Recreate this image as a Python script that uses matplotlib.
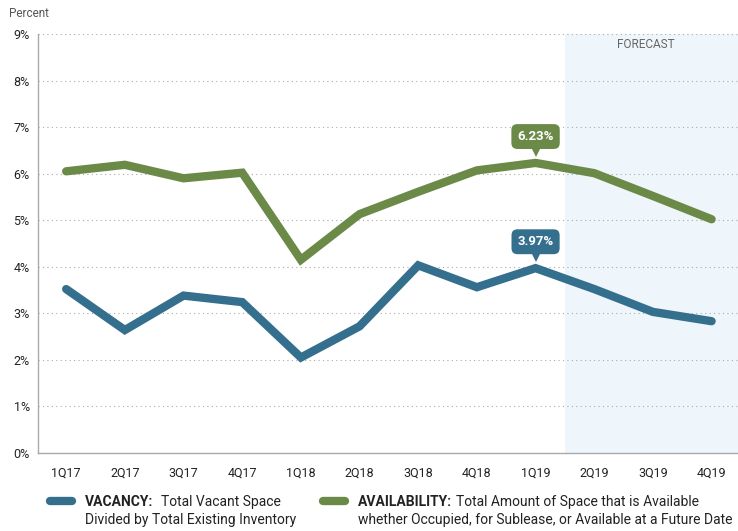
import matplotlib.pyplot as plt
from matplotlib import transforms
from matplotlib.lines import Line2D

quarters = ['1Q17', '2Q17', '3Q17', '4Q17', '1Q18', '2Q18',
            '3Q18', '4Q18', '1Q19', '2Q19', '3Q19', '4Q19']
vacancy = [3.52, 2.64, 3.38, 3.24, 2.05, 2.72, 4.03, 3.56, 3.97, 3.52, 3.03, 2.83]
availability = [6.05, 6.19, 5.90, 6.02, 4.15, 5.13, 5.61, 6.07, 6.23, 6.01, 5.52, 5.02]
yticks = [0, 1, 2, 3, 4, 5, 6, 7, 8, 9]
forecast_start = 8.5
callout_idx = 8

blue = '#356f8e'
green = '#6b8a47'

plt.rcParams['font.family'] = ['Liberation Sans Narrow', 'Roboto', 'DejaVu Sans']

fig = plt.figure(figsize=(7.38, 5.31), dpi=100)
ax = fig.add_axes([0.0515, 0.147, 0.9485, 0.789])

x = list(range(len(quarters)))
ax.axvspan(forecast_start, 11.45, color='#eef6fc', zorder=0, lw=0)
ax.text((forecast_start + 11.45) / 2 - 0.1, 8.78, 'FORECAST', ha='center', va='center',
        fontsize=8.5, color='#666666')

ax.plot(x, availability, color=green, lw=6, solid_capstyle='round', solid_joinstyle='miter', zorder=3)
ax.plot(x, vacancy, color=blue, lw=6, solid_capstyle='round', solid_joinstyle='miter', zorder=3)

# callouts
for vals, col in [(availability, green), (vacancy, blue)]:
    v = vals[callout_idx]
    ax.annotate(f'{v:.2f}%', (callout_idx, v), xytext=(0, 19), textcoords='offset points',
                ha='center', va='center', fontsize=9.5, fontweight='bold', color='white',
                bbox=dict(boxstyle='round,pad=0.45,rounding_size=0.45', fc=col, ec='none'),
                zorder=5)
    tr = transforms.offset_copy(ax.transData, fig=fig, x=0, y=8, units='points')
    ax.plot([callout_idx], [v], marker='v', ms=7, color=col, transform=tr, zorder=5,
            markeredgewidth=0)

ax.set_xlim(-0.48, 11.45)
ax.set_ylim(0, 9)
ax.set_xticks(x)
ax.set_xticklabels(quarters, fontsize=9, color='#222222')
ax.set_yticks(yticks)
ax.set_yticklabels([f'{t}%' for t in yticks], fontsize=9, color='#222222')
ax.tick_params(length=0, pad=10)
ax.tick_params(axis='y', pad=6)
ax.grid(axis='y', color='#aaaaaa', ls=(0, (1, 3)), lw=0.8)
ax.set_axisbelow(True)
for s in ['top', 'right']:
    ax.spines[s].set_visible(False)
for s in ['left', 'bottom']:
    ax.spines[s].set_color('#aaaaaa')
    ax.spines[s].set_linewidth(1)

fig.text(0.012, 0.975, 'Percent', fontsize=8.5, color='#555555', va='center')

# legend
renderer = fig.canvas.get_renderer()
legend_items = [
    (0.068, blue, 'VACANCY:', 'Total Vacant Space', 'Divided by Total Existing Inventory', 0.011),
    (0.438, green, 'AVAILABILITY:', 'Total Amount of Space that is Available',
     'whether Occupied, for Sublease, or Available at a Future Date', 0.005),
]
for x0, col, head, rest, line2, gap in legend_items:
    fig.add_artist(Line2D([x0, x0 + 0.029], [0.057, 0.057], color=col, lw=6,
                          solid_capstyle='round', transform=fig.transFigure))
    tx = x0 + 0.047
    t = fig.text(tx, 0.055, head, fontsize=10, fontweight='bold', color='#222222', va='center')
    bb = t.get_window_extent(renderer).transformed(fig.transFigure.inverted())
    fig.text(bb.x1 + gap, 0.055, rest, fontsize=10, color='#222222', va='center')
    fig.text(tx, 0.02, line2, fontsize=10, color='#222222', va='center')

fig.savefig('out.png', dpi=100)
